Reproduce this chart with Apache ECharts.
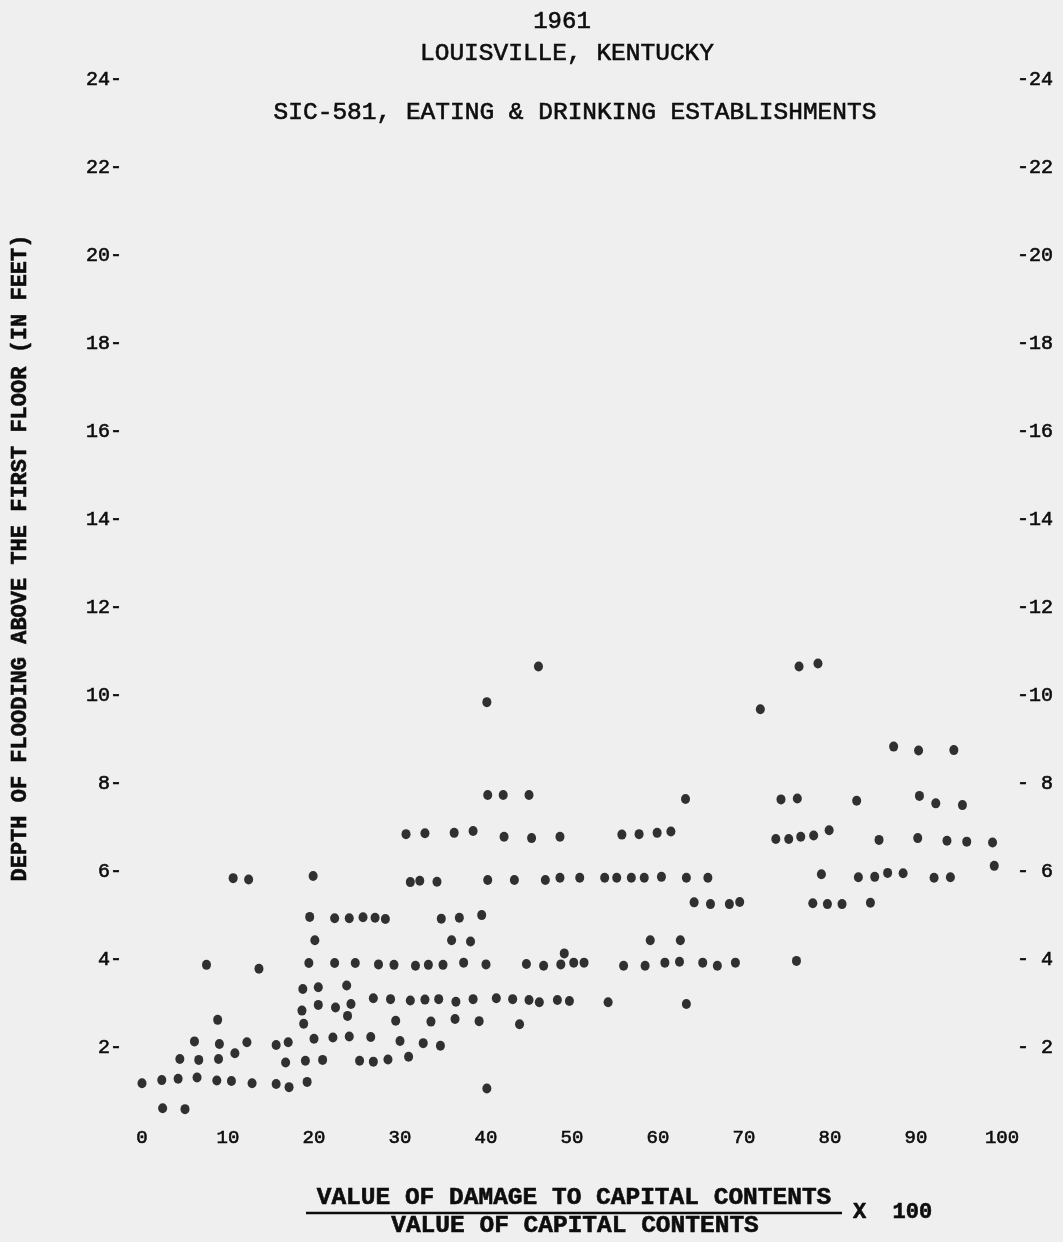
<!DOCTYPE html>
<html>
<head>
<meta charset="utf-8">
<script src="https://cdn.jsdelivr.net/npm/echarts@6/dist/echarts.min.js"></script>
<style>
  html, body { margin: 0; padding: 0; background: #efefef; }
  #chart { width: 1063px; height: 1242px; }
</style>
</head>
<body>
<div id="chart"></div>
<script>
// Damage to capital contents (percent of value) for each establishment
const damagePct = [
  10.6, 12.4, 19.9, 19.5, 22.4, 20.1, 7.5, 13.6, 19.4, 22.4,
  18.7, 20.5, 18.6, 20.5, 22.5, 8.8, 18.8, 6.1, 9.0, 12.2,
  10.8, 15.6, 17.0, 20.0, 22.2, 4.4, 6.6, 8.9, 16.7, 19.0,
  21.0, 0.0, 2.3, 4.2, 6.4, 8.7, 10.4, 12.8, 15.6, 17.1,
  19.2, 2.4, 5.0,
  31.2, 32.3, 34.3, 40.2, 43.3, 24.1, 25.7, 27.1, 28.3, 34.8,
  36.9, 39.5, 36.0, 38.2, 24.8, 27.5, 29.3, 31.8, 33.3, 35.0,
  37.4, 40.0, 44.7, 23.8, 24.3, 23.9, 26.9, 28.9, 31.2, 32.9,
  34.5, 36.5, 38.5, 41.2, 43.1, 45.0, 46.2, 29.5, 33.6, 36.4,
  39.2, 43.9, 24.1, 26.6, 30.0, 32.7, 34.7, 25.3, 26.9, 28.6,
  31.0, 40.1,
  46.1, 40.1, 40.2, 42.0, 45.0, 30.7, 32.9, 36.3, 38.5, 42.1,
  45.3, 48.6,
  63.2, 55.8, 57.8, 59.9, 61.5, 46.9, 48.6, 50.9, 53.8, 55.2,
  56.9, 58.4, 60.4, 63.3, 65.8, 64.2, 66.1, 68.3, 69.5, 59.1,
  62.6, 46.7, 48.7, 49.1, 50.2, 51.4, 56.0, 58.5, 60.8, 62.5,
  65.2, 66.9, 69.0, 48.3, 49.7, 54.2, 63.3,
  76.4, 78.6, 71.9, 87.4, 90.3, 94.4, 74.3, 76.2, 83.1, 90.4,
  92.3, 95.4, 73.7, 75.2, 76.6, 78.1, 79.9, 85.7, 90.2, 93.6,
  95.9, 98.9, 79.0, 83.3, 85.2, 86.7, 88.5, 92.1, 94.0, 99.1,
  78.0, 79.7, 81.4, 84.7, 76.1
];

// Depth of flooding above the first floor, in feet (same order as damagePct)
const floodDepth = [
  5.86, 5.83, 5.91, 4.98, 4.95, 4.45, 3.89, 3.80, 3.93, 3.93,
  3.34, 3.38, 2.85, 2.98, 2.92, 2.64, 2.55, 2.15, 2.09, 2.13,
  1.88, 2.07, 2.13, 2.21, 2.24, 1.75, 1.73, 1.75, 1.67, 1.71,
  1.73, 1.20, 1.27, 1.30, 1.33, 1.26, 1.25, 1.20, 1.18, 1.11,
  1.23, 0.63, 0.61,
  5.77, 5.80, 5.78, 5.82, 5.82, 4.95, 4.97, 4.96, 4.93, 4.94,
  4.96, 5.02, 4.45, 4.42, 3.93, 3.90, 3.89, 3.87, 3.89, 3.89,
  3.94, 3.90, 3.91, 3.42, 3.00, 2.73, 3.13, 3.11, 3.08, 3.10,
  3.11, 3.05, 3.11, 3.13, 3.11, 3.09, 3.04, 2.62, 2.60, 2.66,
  2.61, 2.54, 2.26, 2.25, 2.16, 2.11, 2.05, 1.71, 1.69, 1.74,
  1.80, 1.08,
  10.67, 9.86, 7.75, 7.75, 7.75, 6.86, 6.88, 6.89, 6.93, 6.80,
  6.77, 6.80,
  7.66, 6.85, 6.86, 6.89, 6.92, 5.82, 5.87, 5.87, 5.87, 5.87,
  5.87, 5.87, 5.89, 5.87, 5.87, 5.31, 5.27, 5.27, 5.32, 4.45,
  4.45, 3.87, 3.90, 4.15, 3.94, 3.94, 3.87, 3.87, 3.94, 3.96,
  3.94, 3.87, 3.94, 3.09, 3.07, 3.04, 3.00,
  10.67, 10.74, 9.70, 8.85, 8.76, 8.77, 7.65, 7.67, 7.62, 7.73,
  7.56, 7.52, 6.75, 6.75, 6.80, 6.83, 6.95, 6.73, 6.77, 6.71,
  6.69, 6.67, 5.95, 5.88, 5.89, 5.98, 5.97, 5.87, 5.88, 6.14,
  5.29, 5.27, 5.27, 5.30, 3.98
];

// Axis ranges and tick spacing
const xTicks = [0, 10, 20, 30, 40, 50, 60, 70, 80, 90, 100];
const yTicks = [2, 4, 6, 8, 10, 12, 14, 16, 18, 20, 22, 24];

const titleLines = ['1961', 'LOUISVILLE, KENTUCKY', 'SIC-581, EATING & DRINKING ESTABLISHMENTS'];
const xNameTop = 'VALUE OF DAMAGE TO CAPITAL CONTENTS';
const xNameBottom = 'VALUE OF CAPITAL CONTENTS';
const xNameFactor = 'X  100';
const yName = 'DEPTH OF FLOODING ABOVE THE FIRST FLOOR (IN FEET)';

const points = damagePct.map((d, i) => [d, floodDepth[i]]);

const MONO = '"Liberation Mono", "DejaVu Sans Mono", monospace';
const INK = '#0d0d0d';

// typewriter-like ink weight for all text
const inked = { textBorderColor: INK, textBorderWidth: 0.6 };

const chart = echarts.init(document.getElementById('chart'), null, { renderer: 'canvas' });

const yAxisBase = {
  type: 'value',
  min: 0,
  max: yTicks[yTicks.length - 1],
  interval: yTicks[1] - yTicks[0],
  axisLine: { show: false },
  axisTick: { show: false },
  splitLine: { show: false }
};

function label(text, x, y, font, align, extra) {
  return Object.assign({
    type: 'text', x: x, y: y,
    style: {
      text: text, font: font, fill: INK,
      stroke: INK, lineWidth: 0.6,
      textAlign: align, textVerticalAlign: 'middle'
    }
  }, extra || {});
}

chart.setOption({
  backgroundColor: '#efefef',
  animation: false,
  grid: { left: 142, right: 61, top: 80, bottom: 106, containLabel: false, outerBoundsMode: 'none' },
  xAxis: {
    type: 'value',
    min: xTicks[0],
    max: xTicks[xTicks.length - 1],
    interval: xTicks[1] - xTicks[0],
    axisLine: { show: false },
    axisTick: { show: false },
    splitLine: { show: false },
    axisLabel: Object.assign({
      show: true,
      showMinLabel: true,
      showMaxLabel: true,
      margin: 2,
      verticalAlign: 'middle',
      color: INK,
      fontFamily: MONO,
      fontSize: 19
    }, inked)
  },
  yAxis: [
    Object.assign({}, yAxisBase, {
      position: 'left',
      axisLabel: Object.assign({
        margin: 20,
        color: INK,
        fontFamily: MONO,
        fontSize: 20,
        formatter: v => (yTicks.includes(v) ? v + '-' : '')
      }, inked)
    }),
    Object.assign({}, yAxisBase, {
      position: 'right',
      axisLabel: Object.assign({
        margin: 15,
        color: INK,
        fontFamily: MONO,
        fontSize: 20,
        formatter: v => (yTicks.includes(v) ? (v < 10 ? '- ' + v : '-' + v) : '')
      }, inked)
    })
  ],
  graphic: [
    label(titleLines[0], 562, 22, '24px ' + MONO, 'center'),
    label(titleLines[1], 567, 54, '24.5px ' + MONO, 'center'),
    label(titleLines[2], 575, 113, '24.5px ' + MONO, 'center'),
    label(yName, 20, 558, 'bold 22px ' + MONO, 'center', { rotation: Math.PI / 2 }),
    label(xNameTop, 574, 1198, 'bold 24.5px ' + MONO, 'center'),
    { type: 'line', shape: { x1: 306, y1: 1213, x2: 842, y2: 1213 }, style: { stroke: INK, lineWidth: 2.5 } },
    label(xNameBottom, 575, 1226, 'bold 24.5px ' + MONO, 'center'),
    label(xNameFactor, 853, 1212, 'bold 22px ' + MONO, 'left')
  ],
  series: [{
    type: 'scatter',
    yAxisIndex: 0,
    data: points,
    symbol: 'circle',
    symbolSize: [9, 10],
    itemStyle: { color: '#000000' },
    silent: true
  }]
});
</script>
</body>
</html>
